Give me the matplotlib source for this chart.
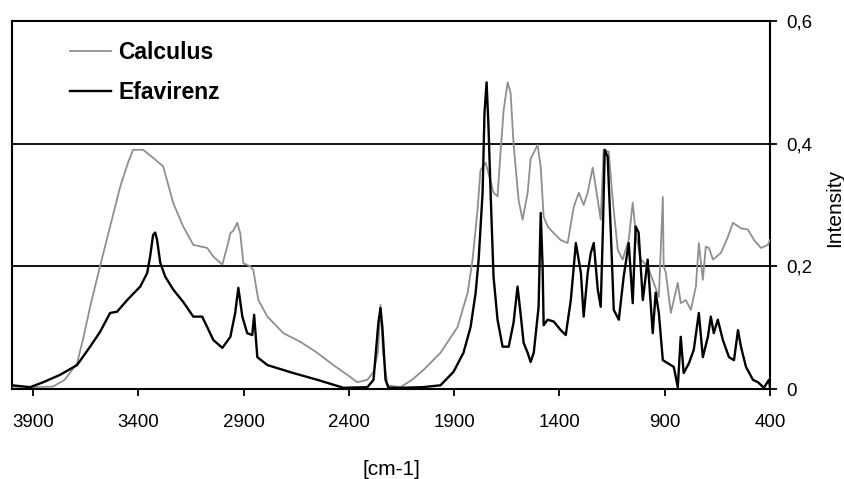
import matplotlib
matplotlib.use("Agg")
import matplotlib.pyplot as plt
from matplotlib.ticker import FixedLocator, FixedFormatter

plt.rcParams['font.family'] = ['Liberation Sans', 'DejaVu Sans']

calc_wn = [4000, 3900, 3805, 3750, 3691, 3660, 3629, 3582, 3534, 3486, 3448, 3425, 3377, 3330,
           3282, 3234, 3187, 3139, 3100, 3073, 3044, 3001, 2978, 2963, 2949, 2930, 2916, 2901,
           2868, 2854, 2830, 2787, 2711, 2631, 2550, 2474, 2407, 2360, 2312, 2283, 2262, 2250,
           2238, 2217, 2155, 2100, 2046, 1965, 1884, 1836, 1813, 1789, 1775, 1751, 1732, 1713,
           1694, 1680, 1665, 1646, 1632, 1618, 1594, 1575, 1551, 1537, 1504, 1489, 1475, 1456,
           1427, 1394, 1361, 1332, 1308, 1285, 1266, 1242, 1228, 1204, 1190, 1166, 1147, 1123,
           1100, 1071, 1052, 1038, 1014, 981, 952, 928, 909, 905, 895, 871, 838, 824, 800, 776,
           752, 738, 719, 705, 690, 671, 633, 600, 576, 538, 505, 476, 443, 410, 400]
calc_int = [0.004, 0.003, 0.004, 0.015, 0.042, 0.085, 0.134, 0.200, 0.265, 0.330, 0.370, 0.390,
            0.390, 0.377, 0.363, 0.303, 0.265, 0.235, 0.232, 0.230, 0.216, 0.203, 0.232, 0.254,
            0.258, 0.271, 0.254, 0.205, 0.200, 0.194, 0.145, 0.118, 0.091, 0.077, 0.059, 0.039,
            0.023, 0.011, 0.015, 0.028, 0.060, 0.137, 0.060, 0.006, 0.003, 0.015, 0.031, 0.059,
            0.101, 0.157, 0.210, 0.292, 0.357, 0.369, 0.345, 0.320, 0.314, 0.385, 0.455, 0.500,
            0.483, 0.400, 0.308, 0.276, 0.320, 0.375, 0.398, 0.362, 0.281, 0.265, 0.254, 0.243,
            0.238, 0.297, 0.320, 0.300, 0.320, 0.361, 0.330, 0.276, 0.390, 0.387, 0.308, 0.227,
            0.211, 0.243, 0.304, 0.255, 0.211, 0.200, 0.173, 0.150, 0.313, 0.200, 0.190, 0.124,
            0.173, 0.140, 0.145, 0.129, 0.167, 0.238, 0.178, 0.232, 0.230, 0.211, 0.222, 0.248,
            0.271, 0.262, 0.260, 0.243, 0.230, 0.235, 0.243]

efa_wn = [4000, 3914, 3852, 3772, 3691, 3629, 3582, 3534, 3501, 3453, 3391, 3358, 3344, 3330,
          3320, 3311, 3296, 3272, 3234, 3187, 3139, 3097, 3073, 3044, 3001, 2963, 2940, 2925,
          2906, 2883, 2859, 2850, 2835, 2787, 2711, 2664, 2550, 2474, 2426, 2312, 2283, 2260,
          2250, 2241, 2226, 2212, 2155, 2050, 1965, 1903, 1856, 1822, 1798, 1784, 1765, 1756,
          1746, 1737, 1727, 1713, 1694, 1670, 1641, 1618, 1599, 1585, 1570, 1551, 1537, 1522,
          1499, 1489, 1480, 1475, 1456, 1427, 1394, 1370, 1346, 1322, 1298, 1285, 1266, 1251,
          1237, 1218, 1204, 1194, 1185, 1171, 1156, 1142, 1118, 1095, 1071, 1052, 1038, 1024,
          1004, 981, 957, 943, 928, 909, 885, 857, 838, 824, 810, 785, 762, 738, 719, 695, 681,
          667, 648, 624, 595, 571, 552, 538, 514, 481, 457, 429, 405, 400]
efa_int = [0.006, 0.003, 0.011, 0.023, 0.039, 0.069, 0.093, 0.124, 0.126, 0.145, 0.167, 0.189,
           0.216, 0.251, 0.255, 0.243, 0.206, 0.183, 0.162, 0.142, 0.118, 0.118, 0.101, 0.080,
           0.067, 0.085, 0.124, 0.165, 0.118, 0.091, 0.088, 0.121, 0.052, 0.039, 0.031, 0.026,
           0.015, 0.007, 0.002, 0.003, 0.015, 0.108, 0.132, 0.101, 0.015, 0.002, 0.002, 0.003,
           0.006, 0.028, 0.059, 0.101, 0.157, 0.210, 0.320, 0.450, 0.500, 0.428, 0.320, 0.183,
           0.113, 0.069, 0.069, 0.108, 0.167, 0.124, 0.075, 0.059, 0.044, 0.059, 0.134, 0.287,
           0.200, 0.104, 0.113, 0.110, 0.096, 0.088, 0.145, 0.238, 0.189, 0.118, 0.189, 0.222,
           0.238, 0.162, 0.134, 0.255, 0.390, 0.379, 0.255, 0.129, 0.113, 0.183, 0.238, 0.140,
           0.265, 0.255, 0.145, 0.211, 0.091, 0.157, 0.124, 0.047, 0.042, 0.036, 0.003, 0.085,
           0.026, 0.042, 0.064, 0.124, 0.052, 0.085, 0.118, 0.091, 0.113, 0.080, 0.052, 0.047,
           0.096, 0.069, 0.036, 0.015, 0.011, 0.002, 0.015, 0.003]

xticks = [3900, 3400, 2900, 2400, 1900, 1400, 900, 400]
xticklabels = ['3900', '3400', '2900', '2400', '1900', '1400', '900', '400']
yticks = [0, 0.2, 0.4, 0.6]
yticklabels = ['0', '0,2', '0,4', '0,6']

fig = plt.figure(figsize=(8.45, 4.79), dpi=100)
ax = fig.add_axes([12/845, 90/479, 758/845, 368/479])

ax.plot(calc_wn, calc_int, color='#8f8f8f', lw=1.3, label='Calculus', zorder=3)
ax.plot(efa_wn, efa_int, color='black', lw=1.7, label='Efavirenz', zorder=4)

ax.set_xlim(4000, 400)
ax.set_ylim(0, 0.6)

ax.xaxis.set_major_locator(FixedLocator(xticks))
ax.xaxis.set_major_formatter(FixedFormatter(xticklabels))
ax.yaxis.tick_right()
ax.yaxis.set_label_position('right')
ax.yaxis.set_major_locator(FixedLocator(yticks))
ax.yaxis.set_major_formatter(FixedFormatter(yticklabels))
ax.tick_params(axis='both', direction='out', length=5, width=1.3, colors='black', labelsize=13.5)
ax.tick_params(axis='x', pad=13)
ax.tick_params(axis='y', pad=7)
ax.yaxis.grid(True, color='black', lw=1.3)
ax.set_axisbelow(True)
for s in ax.spines.values():
    s.set_linewidth(1.5)
    s.set_color('black')

ax.set_xlabel('[cm-1]', fontsize=15)
ax.xaxis.set_label_coords(0.5, -0.193)
ax.set_ylabel('Intensity', fontsize=15)
ax.yaxis.set_label_coords(1.0726, 0.493)

leg = ax.legend(loc='upper left', bbox_to_anchor=(0.0765, 0.946), frameon=False,
                prop={'weight': 'bold', 'size': 16.5}, handlelength=1.8, handletextpad=0.3,
                labelspacing=0.76, borderpad=0, borderaxespad=0)

fig.savefig('out.png', dpi=100)
